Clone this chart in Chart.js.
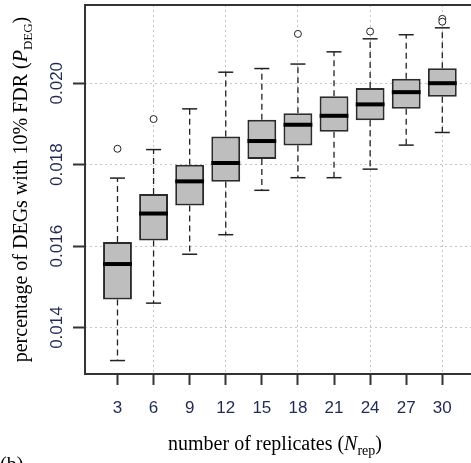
<!DOCTYPE html>
<html>
<head>
<meta charset="utf-8">
<script src="https://cdn.jsdelivr.net/npm/chart.js@4/dist/chart.umd.min.js"></script>
<style>
    html, body { margin: 0; padding: 0; background: #fff; overflow: hidden; }
    #wrap { position: absolute; left: 0; top: 0; width: 490px; height: 480px; }
</style>
</head>
<body>
<div id="wrap"><canvas id="boxChart" width="490" height="480"></canvas></div>
<script>
// number of replicates on the x axis
const replicates = [3, 6, 9, 12, 15, 18, 21, 24, 27, 30];

// box plot summaries
const lowerWhisker = [0.01319, 0.01460, 0.01580, 0.01628, 0.01737, 0.01768, 0.01768, 0.01789, 0.01848, 0.01879];
const lowerQuartile = [0.01469, 0.01614, 0.01700, 0.01758, 0.01814, 0.01847, 0.01881, 0.01909, 0.01937, 0.01967];
const medians = [0.01556, 0.01680, 0.01759, 0.01804, 0.01858, 0.01898, 0.01920, 0.01948, 0.01978, 0.02000];
const upperQuartile = [0.01610, 0.01728, 0.01800, 0.01869, 0.01910, 0.01926, 0.01968, 0.01988, 0.02011, 0.02037];
const upperWhisker = [0.01767, 0.01837, 0.01937, 0.02027, 0.02036, 0.02047, 0.02077, 0.02109, 0.02119, 0.02136];
const outliers = [[0.01839], [0.01912], [], [], [], [0.02121], [], [0.02127], [], [0.02158, 0.02151]];

const yTicks = [0.014, 0.016, 0.018, 0.020];
const yTickLabels = ['0.014', '0.016', '0.018', '0.020'];

const positions = replicates.map((r, i) => i + 1);
const tickColor = '#1f2a55';

// whisker lines, broken with nulls between boxes
const whiskerData = [];
positions.forEach((p, i) => {
    whiskerData.push({x: p, y: upperQuartile[i]}, {x: p, y: upperWhisker[i]}, {x: p, y: null});
    whiskerData.push({x: p, y: lowerQuartile[i]}, {x: p, y: lowerWhisker[i]}, {x: p, y: null});
});

const capData = [];
positions.forEach((p, i) => {
    capData.push({x: p, y: upperWhisker[i]}, {x: p, y: lowerWhisker[i]});
});

const outlierData = [];
positions.forEach((p, i) => {
    outliers[i].forEach(v => outlierData.push({x: p, y: v}));
});

// frame, rotated y labels and axis titles (mixed italic / subscript)
const extras = {
    id: 'extras',
    afterDraw(chart) {
        const ctx = chart.ctx;
        const area = chart.chartArea;
        const yScale = chart.scales.y;

        ctx.save();
        ctx.strokeStyle = '#333';
        ctx.lineWidth = 2;
        ctx.strokeRect(area.left, area.top, area.right - area.left, area.bottom - area.top);

        // y tick labels, reading upwards like R
        ctx.fillStyle = tickColor;
        ctx.font = '17px "Liberation Sans", Arial, sans-serif';
        ctx.textAlign = 'center';
        ctx.textBaseline = 'alphabetic';
        yTicks.forEach((v, i) => {
            ctx.save();
            ctx.translate(62, yScale.getPixelForValue(v));
            ctx.rotate(-Math.PI / 2);
            ctx.fillText(yTickLabels[i], 0, 0);
            ctx.restore();
        });

        ctx.fillStyle = '#000';
        ctx.textAlign = 'left';
        const serif = '"Liberation Serif", "Times New Roman", serif';
        const drawParts = (parts) => {
            let total = 0;
            parts.forEach(p => { ctx.font = p.font; p.w = ctx.measureText(p.text).width; total += p.w; });
            let x = -total / 2;
            parts.forEach(p => { ctx.font = p.font; ctx.fillText(p.text, x, p.dy || 0); x += p.w; });
        };

        // y axis title
        ctx.save();
        ctx.translate(27, (area.top + area.bottom) / 2);
        ctx.rotate(-Math.PI / 2);
        drawParts([
            {text: 'percentage of DEGs with 10% FDR (', font: '20px ' + serif},
            {text: 'P', font: 'italic 20px ' + serif},
            {text: 'DEG', font: '13px ' + serif, dy: 5},
            {text: ')', font: '20px ' + serif}
        ]);
        ctx.restore();

        // x axis title
        ctx.save();
        ctx.translate(275, 450);
        drawParts([
            {text: 'number of replicates (', font: '20px ' + serif},
            {text: 'N', font: 'italic 20px ' + serif},
            {text: 'rep', font: '14px ' + serif, dy: 5},
            {text: ')', font: '20px ' + serif}
        ]);
        ctx.restore();

        // panel letter, mostly cut off at the bottom
        ctx.font = '20px ' + serif;
        ctx.fillText('(b)', 0, 471);
        ctx.restore();
    }
};

new Chart(document.getElementById('boxChart'), {
    type: 'bar',
    data: {
        datasets: [
            {
                type: 'line',
                data: whiskerData,
                borderColor: '#222',
                borderWidth: 1.3,
                borderDash: [6, 4],
                pointRadius: 0,
                spanGaps: false,
                order: 4
            },
            {
                type: 'bar',
                data: positions.map((p, i) => ({x: p, y: [lowerQuartile[i], upperQuartile[i]]})),
                backgroundColor: '#bebebe',
                borderColor: '#2b2b2b',
                borderWidth: 2,
                borderSkipped: false,
                barPercentage: 0.8,
                categoryPercentage: 1.0,
                order: 3
            },
            {
                type: 'scatter',
                data: positions.map((p, i) => ({x: p, y: medians[i]})),
                pointStyle: 'line',
                pointRadius: 14.4,
                borderColor: '#000',
                borderWidth: 4,
                order: 2
            },
            {
                type: 'scatter',
                data: capData,
                pointStyle: 'line',
                pointRadius: 7.5,
                borderColor: '#222',
                borderWidth: 1.5,
                order: 2
            },
            {
                type: 'scatter',
                data: outlierData,
                pointStyle: 'circle',
                pointRadius: 3.5,
                backgroundColor: '#fff',
                borderColor: '#222',
                borderWidth: 1,
                order: 1
            }
        ]
    },
    options: {
        responsive: false,
        animation: false,
        events: [],
        layout: { autoPadding: false, padding: { top: 5, left: 0, right: 8, bottom: 0 } },
        plugins: {
            legend: { display: false },
            tooltip: { enabled: false }
        },
        scales: {
            x: {
                type: 'linear',
                min: 0.1,
                max: 11.1,
                offset: false,
                afterBuildTicks: (scale) => { scale.ticks = positions.map(v => ({value: v})); },
                afterFit: (scale) => { scale.height = 106; },
                grid: {
                    offset: false,
                    color: (c) => (c.tick && c.tick.value % 2 === 0) ? '#c4c4c4' : 'rgba(0,0,0,0)',
                    lineWidth: 1,
                    tickLength: 11,
                    tickColor: '#333',
                    tickWidth: 2
                },
                border: { display: false, dash: [2, 3] },
                ticks: {
                    autoSkip: false,
                    maxRotation: 0,
                    padding: 13,
                    color: tickColor,
                    font: { family: '"Liberation Sans", Arial, sans-serif', size: 17 },
                    callback: (v) => replicates[v - 1]
                }
            },
            y: {
                type: 'linear',
                min: 0.01286,
                max: 0.02192,
                afterBuildTicks: (scale) => { scale.ticks = yTicks.map(v => ({value: v})); },
                afterFit: (scale) => { scale.width = 85; },
                grid: {
                    color: '#c4c4c4',
                    lineWidth: 1,
                    tickLength: 12,
                    tickColor: '#333',
                    tickWidth: 2
                },
                border: { display: false, dash: [2, 3] },
                ticks: { display: false }
            }
        }
    },
    plugins: [extras]
});
</script>
</body>
</html>
